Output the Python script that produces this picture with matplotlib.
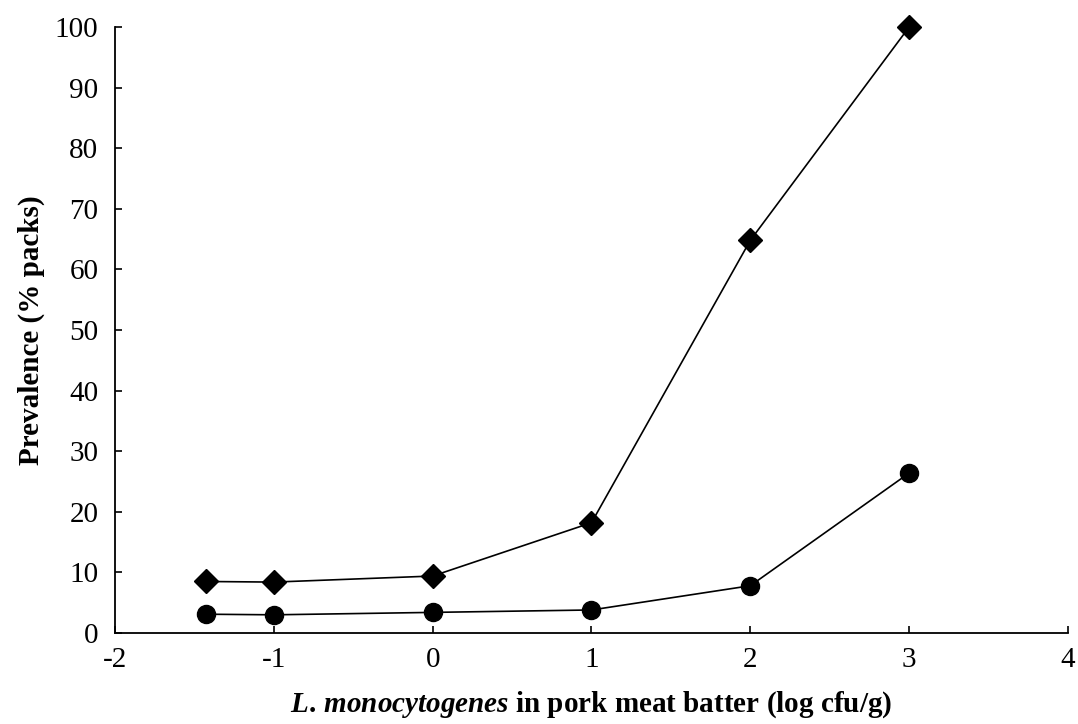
import matplotlib
matplotlib.use('Agg')
import matplotlib.pyplot as plt

plt.rcParams['font.family'] = 'Liberation Serif'
plt.rcParams['mathtext.fontset'] = 'custom'
plt.rcParams['mathtext.it'] = 'Liberation Serif:italic:bold'
plt.rcParams['mathtext.rm'] = 'Liberation Serif:bold'

# log cfu/g in batter vs prevalence
log_conc = [-1.43, -1, 0, 1, 2, 3]
prev_diamond = [8.5, 8.4, 9.4, 18.2, 64.8, 100]
prev_circle = [3.1, 3.0, 3.4, 3.8, 7.8, 26.4]

x_ticks = [-2, -1, 0, 1, 2, 3, 4]
y_ticks = [0, 10, 20, 30, 40, 50, 60, 70, 80, 90, 100]

fig = plt.figure(figsize=(10.78, 7.24), dpi=100)
ax = fig.add_axes([0.1067, 0.1257, 0.8840, 0.8370])

ax.plot(log_conc, prev_diamond, color='black', lw=1.2, marker='D', markersize=12.5, clip_on=False)
ax.plot(log_conc, prev_circle, color='black', lw=1.2, marker='o', markersize=13, clip_on=False)

ax.set_xlim(-2, 4)
ax.set_ylim(0, 100)
ax.set_xticks(x_ticks)
ax.set_yticks(y_ticks)
ax.set_xticklabels([str(t) for t in x_ticks])
ax.tick_params(direction='in', length=5, width=1.2, labelsize=21, pad=10)
ax.tick_params(axis='y', pad=12)

for s in ['top', 'right']:
    ax.spines[s].set_visible(False)
for s in ['left', 'bottom']:
    ax.spines[s].set_linewidth(1.3)

ax.set_ylabel('Prevalence (% packs)', fontsize=21, fontweight='bold', labelpad=7)
ax.set_xlabel(r'$L.\,monocytogenes$ in pork meat batter (log cfu/g)', fontsize=21,
              fontweight='bold', labelpad=12)

fig.savefig('out.png', dpi=100)
